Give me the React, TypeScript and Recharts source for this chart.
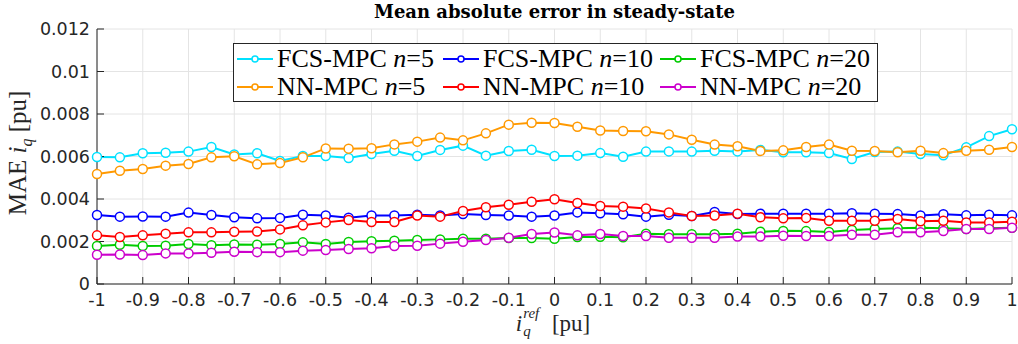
import React from 'react';
import { LineChart, Line, XAxis, YAxis, CartesianGrid } from 'recharts';

// reference current i_q^ref [pu]
const iqRef = [
  -1, -0.95, -0.9, -0.85, -0.8, -0.75, -0.7, -0.65, -0.6, -0.55, -0.5,
  -0.45, -0.4, -0.35, -0.3, -0.25, -0.2, -0.15, -0.1, -0.05, 0,
  0.05, 0.1, 0.15, 0.2, 0.25, 0.3, 0.35, 0.4, 0.45, 0.5,
  0.55, 0.6, 0.65, 0.7, 0.75, 0.8, 0.85, 0.9, 0.95, 1,
];

const fcs5 = [
  0.00598, 0.00596, 0.00615, 0.00618, 0.00623, 0.00645, 0.0061, 0.00615, 0.00579, 0.00602, 0.00602,
  0.00593, 0.00612, 0.00627, 0.00602, 0.00631, 0.00651, 0.00604, 0.00626, 0.00632, 0.00602,
  0.00604, 0.00616, 0.00599, 0.00623, 0.00624, 0.00623, 0.00627, 0.00624, 0.00631, 0.0062,
  0.0062, 0.00616, 0.00588, 0.00621, 0.00623, 0.00612, 0.00606, 0.00643, 0.00696, 0.00728,
];
const fcs10 = [
  0.00325, 0.00317, 0.00318, 0.00317, 0.00336, 0.00325, 0.00314, 0.00309, 0.00311, 0.00326, 0.00322,
  0.00312, 0.00322, 0.00322, 0.00326, 0.00322, 0.00329, 0.00325, 0.00322, 0.00317, 0.00322,
  0.00337, 0.00333, 0.00328, 0.00317, 0.00326, 0.0032, 0.00339, 0.00329, 0.00331, 0.00331,
  0.00331, 0.00331, 0.00333, 0.00331, 0.00329, 0.00322, 0.00328, 0.00323, 0.00326, 0.00323,
];
const fcs20 = [
  0.00179, 0.00185, 0.00179, 0.0018, 0.00188, 0.00182, 0.00186, 0.00185, 0.00188, 0.00196, 0.00188,
  0.00198, 0.00201, 0.00204, 0.00207, 0.0021, 0.00213, 0.00213, 0.00216, 0.00216, 0.00213,
  0.00221, 0.00222, 0.0022, 0.00237, 0.00234, 0.00234, 0.00234, 0.00237, 0.00246, 0.0025,
  0.00249, 0.00245, 0.00254, 0.00259, 0.00262, 0.00265, 0.00262, 0.00259, 0.00262, 0.00265,
];
const nn5 = [
  0.00518, 0.00533, 0.00541, 0.00557, 0.00565, 0.00596, 0.00601, 0.00563, 0.00569, 0.00596, 0.00638,
  0.00637, 0.00639, 0.00657, 0.0067, 0.00689, 0.00676, 0.00709, 0.0075, 0.00759, 0.00758,
  0.0074, 0.00722, 0.0072, 0.00719, 0.00704, 0.00679, 0.00656, 0.00648, 0.00626, 0.00629,
  0.00645, 0.00656, 0.00627, 0.00626, 0.0062, 0.00627, 0.00616, 0.00627, 0.00632, 0.00645,
];
const nn10 = [
  0.00229, 0.00221, 0.00229, 0.00237, 0.00243, 0.00243, 0.00246, 0.00247, 0.00257, 0.00276, 0.0029,
  0.00301, 0.00292, 0.00292, 0.00322, 0.00317, 0.00344, 0.00361, 0.00373, 0.00387, 0.00399,
  0.00381, 0.00367, 0.00364, 0.00355, 0.00337, 0.0032, 0.00322, 0.00331, 0.00314, 0.00309,
  0.00311, 0.00298, 0.00298, 0.00298, 0.00306, 0.00295, 0.00298, 0.0029, 0.0029, 0.00293,
];
const nn20 = [
  0.00138, 0.00139, 0.00136, 0.00144, 0.00144, 0.00147, 0.00152, 0.0015, 0.0015, 0.00157, 0.0016,
  0.00165, 0.00168, 0.00179, 0.0018, 0.0019, 0.00199, 0.00207, 0.00218, 0.00235, 0.00242,
  0.00229, 0.00235, 0.00226, 0.00226, 0.00218, 0.00218, 0.00218, 0.00223, 0.00223, 0.00227,
  0.00226, 0.00226, 0.00232, 0.00232, 0.00243, 0.00243, 0.00249, 0.00259, 0.00259, 0.00265,
];

const xTicks = [-1, -0.9, -0.8, -0.7, -0.6, -0.5, -0.4, -0.3, -0.2, -0.1, 0, 0.1, 0.2, 0.3, 0.4, 0.5, 0.6, 0.7, 0.8, 0.9, 1];
const yTicks = [0, 0.002, 0.004, 0.006, 0.008, 0.01, 0.012];

const series = [
  { key: 'fcs5', method: 'FCS-MPC', n: '5', color: '#00e1ff', values: fcs5 },
  { key: 'fcs10', method: 'FCS-MPC', n: '10', color: '#0000ff', values: fcs10 },
  { key: 'fcs20', method: 'FCS-MPC', n: '20', color: '#00cc00', values: fcs20 },
  { key: 'nn5', method: 'NN-MPC', n: '5', color: '#ff9900', values: nn5 },
  { key: 'nn10', method: 'NN-MPC', n: '10', color: '#ff0000', values: nn10 },
  { key: 'nn20', method: 'NN-MPC', n: '20', color: '#cc00cc', values: nn20 },
];

const data = iqRef.map((x, i) => {
  const row: Record<string, number> = { x };
  series.forEach((s) => (row[s.key] = s.values[i]));
  return row;
});

const axisColor = '#262626';
const serif = '"Liberation Serif", "Times New Roman", serif';
const tickFont = { fontFamily: '"DejaVu Sans", sans-serif', fontSize: 17.5, fill: axisColor };

const LegendItem: React.FC<{ s: (typeof series)[number]; width?: number }> = ({ s, width }) => (
  <div style={{ display: 'flex', alignItems: 'center', width, whiteSpace: 'nowrap' }}>
    <svg width={38} height={12} style={{ marginRight: 2, flexShrink: 0 }}>
      <line x1={0} y1={6} x2={36} y2={6} stroke={s.color} strokeWidth={2} />
      <circle cx={18} cy={6} r={3} stroke={s.color} strokeWidth={1.5} fill="#fff" />
    </svg>
    <span>
      {s.method} <i>n</i>={s.n}
    </span>
  </div>
);

export default function App() {
  const colWidths = [206, 217, undefined];
  return (
    <div style={{ position: 'absolute', left: 0, top: 0, width: 1018, height: 344, background: '#fff' }}>
      <LineChart width={1018} height={344} data={data} margin={{ top: 29, right: 6, bottom: 0, left: 0 }}>
        <CartesianGrid stroke="#e4e4e4" strokeWidth={1} />
        <XAxis
          dataKey="x"
          type="number"
          domain={[-1, 1]}
          ticks={xTicks}
          tickFormatter={(v: number) => String(v)}
          height={60}
          tickSize={-7}
          tickMargin={17}
          tick={tickFont}
          axisLine={{ stroke: axisColor }}
          tickLine={{ stroke: axisColor }}
        />
        <XAxis
          xAxisId="top"
          orientation="top"
          type="number"
          domain={[-1, 1]}
          ticks={xTicks}
          height={0}
          tick={false}
          tickSize={-7}
          axisLine={{ stroke: axisColor }}
          tickLine={{ stroke: axisColor }}
        />
        <YAxis
          type="number"
          domain={[0, 0.012]}
          ticks={yTicks}
          tickFormatter={(v: number) => String(v)}
          width={97}
          tickSize={-7}
          tickMargin={14}
          tick={tickFont}
          axisLine={{ stroke: axisColor }}
          tickLine={{ stroke: axisColor }}
        />
        <YAxis
          yAxisId="right"
          orientation="right"
          type="number"
          domain={[0, 0.012]}
          ticks={yTicks}
          width={0}
          tick={false}
          tickSize={-7}
          axisLine={{ stroke: axisColor }}
          tickLine={{ stroke: axisColor }}
        />
        {series.map((s) => (
          <Line
            key={s.key}
            dataKey={s.key}
            stroke={s.color}
            strokeWidth={2}
            dot={{ r: 4.5, stroke: s.color, strokeWidth: 1.5, fill: '#fff' }}
            activeDot={false}
            isAnimationActive={false}
          />
        ))}
      </LineChart>

      {/* title */}
      <div
        style={{
          position: 'absolute', left: 97, width: 915, top: 1, textAlign: 'center',
          fontFamily: '"DejaVu Serif", serif', fontWeight: 'bold', fontSize: 18, color: '#000',
        }}
      >
        Mean absolute error in steady-state
      </div>

      {/* legend */}
      <div
        style={{
          position: 'absolute', left: 233, top: 43, width: 640, height: 57,
          border: `1.5px solid ${axisColor}`, background: '#fff', boxSizing: 'content-box',
          fontFamily: serif, fontSize: 26, color: '#000', lineHeight: '28px',
          display: 'flex', flexDirection: 'column', justifyContent: 'center', paddingLeft: 3,
        }}
      >
        {[0, 1].map((r) => (
          <div key={r} style={{ display: 'flex' }}>
            {series.slice(r * 3, r * 3 + 3).map((s, c) => (
              <LegendItem key={s.key} s={s} width={colWidths[c]} />
            ))}
          </div>
        ))}
      </div>

      {/* y label */}
      <div
        style={{
          position: 'absolute', left: 18, top: 153, transform: 'translate(-50%, -50%) rotate(-90deg)',
          whiteSpace: 'nowrap', fontFamily: serif, fontSize: 25, lineHeight: '28px', color: axisColor,
        }}
      >
        MAE <i>i</i><sub style={{ fontSize: 16, lineHeight: 0 }}><i>q</i></sub> [pu]
      </div>

      {/* x label */}
      <div
        style={{
          position: 'absolute', left: 553, top: 311, transform: 'translateX(-50%)',
          whiteSpace: 'nowrap', fontFamily: serif, fontSize: 23, color: axisColor, lineHeight: '26px',
        }}
      >
        <i>i</i>
        <span style={{ display: 'inline-block', position: 'relative', width: 24, height: 26, verticalAlign: 'top' }}>
          <i style={{ position: 'absolute', left: 1, top: -5, fontSize: 15, lineHeight: '15px' }}>ref</i>
          <i style={{ position: 'absolute', left: 1, top: 13, fontSize: 15, lineHeight: '15px' }}>q</i>
        </span>
        {' '}[pu]
      </div>
    </div>
  );
}
